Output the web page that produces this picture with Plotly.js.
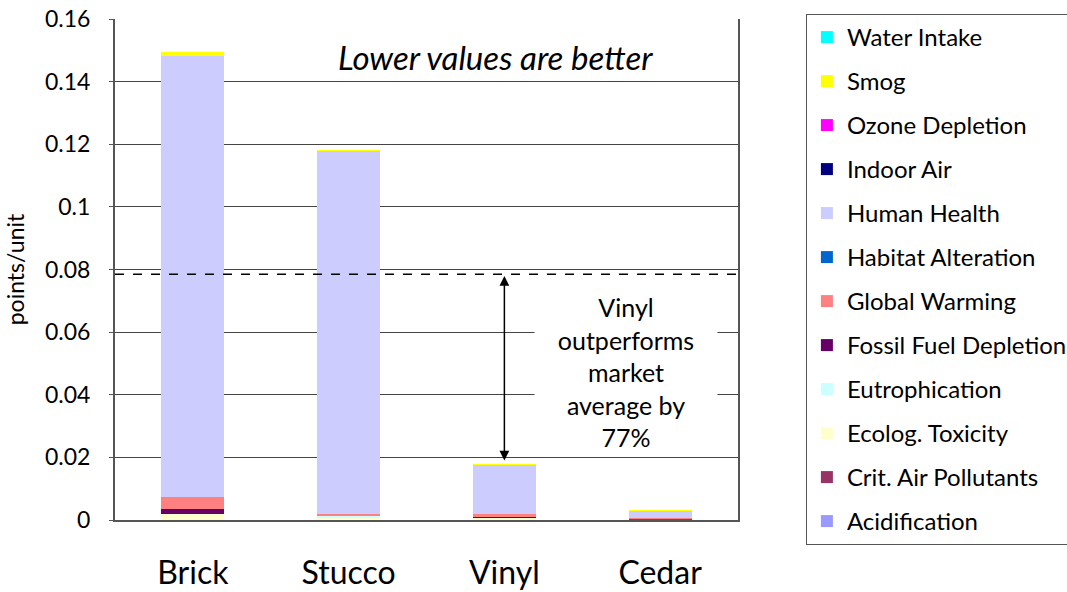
<!DOCTYPE html>
<html>
<head>
<meta charset="utf-8">
<script src="https://cdn.plot.ly/plotly-3.0.1.min.js"></script>
<style>html,body{margin:0;padding:0;background:#fff;}#chart{width:1067px;height:592px;}</style>
</head>
<body>
<div id="chart"></div>
<script>
// Categories and stacked series (points/unit), bottom of stack first
var categories = ["Brick", "Stucco", "Vinyl", "Cedar"];
var seriesNames = ["Acidification", "Crit. Air Pollutants", "Ecolog. Toxicity", "Eutrophication",
  "Fossil Fuel Depletion", "Global Warming", "Habitat Alteration", "Human Health",
  "Indoor Air", "Ozone Depletion", "Smog", "Water Intake"];
var seriesColors = ["#9999FF", "#993366", "#FFFFCC", "#CCFFFF", "#660066", "#FF8080",
  "#0066CC", "#CCCCFF", "#000080", "#FF00FF", "#FFFF00", "#00FFFF"];
var acidification   = [0.0000, 0.0000, 0.0000, 0.0000];
var critAir         = [0.0000, 0.0001, 0.0001, 0.0004];
var ecologToxicity  = [0.0020, 0.0007, 0.0006, 0.0000];
var eutrophication  = [0.0000, 0.0004, 0.0000, 0.0000];
var fossilFuel      = [0.0015, 0.0000, 0.0003, 0.0000];
var globalWarming   = [0.0038, 0.0007, 0.0010, 0.0002];
var habitat         = [0.0000, 0.0000, 0.0000, 0.0000];
var humanHealth     = [0.1409, 0.1158, 0.0156, 0.0022];
var indoorAir       = [0.0000, 0.0000, 0.0000, 0.0000];
var ozone           = [0.0000, 0.0000, 0.0000, 0.0000];
var smog            = [0.0012, 0.0004, 0.0004, 0.0005];
var waterIntake     = [0.0000, 0.0000, 0.0000, 0.0000];
var seriesValues = [acidification, critAir, ecologToxicity, eutrophication, fossilFuel,
  globalWarming, habitat, humanHealth, indoorAir, ozone, smog, waterIntake];
var marketAverage = 0.0785;
var vinylTotal = 0.0179;
var yTicks = [0, 0.02, 0.04, 0.06, 0.08, 0.1, 0.12, 0.14, 0.16];
var yTickLabels = ["0", "0.02", "0.04", "0.06", "0.08", "0.1", "0.12", "0.14", "0.16"];

var FONT = "Lato, 'Open Sans', sans-serif";
var traces = seriesNames.map(function (name, i) {
  return {
    type: "bar", name: name, x: categories, y: seriesValues[i],
    marker: {color: seriesColors[i], line: {width: 0}},
    legendgroup: "g" + i, legendrank: 100 - i, hoverinfo: "name+y"
  };
});

var layout = {
  width: 1067, height: 592,
  margin: {l: 115, r: 329, t: 19, b: 72, autoexpand: false},
  paper_bgcolor: "#fff", plot_bgcolor: "#fff",
  barmode: "stack", bargap: 0.595,
  font: {family: FONT, color: "#000"},
  showlegend: true,
  legend: {
    x: 1.109, xanchor: "left", y: 1.01, yanchor: "top",
    traceorder: "grouped", tracegroupgap: 9.8,
    maxheight: 700,
    bordercolor: "#555", borderwidth: 1, bgcolor: "#fff",
    font: {family: FONT, size: 24, color: "#000"}
  },
  xaxis: {
    type: "category", showgrid: false, ticks: "",
    tickfont: {family: FONT, size: 32, color: "#000"},
    ticklabelstandoff: 24,
    showline: true, linecolor: "#555", linewidth: 2, mirror: false
  },
  yaxis: {
    range: [0, 0.16], tickvals: yTicks, ticktext: yTickLabels,
    tickfont: {family: FONT, size: 23, color: "#000"},
    ticks: "outside", ticklen: 4, tickcolor: "#555",
    ticklabelstandoff: 14,
    showgrid: true, gridcolor: "#444", gridwidth: 1,
    showline: true, linecolor: "#555", linewidth: 2, mirror: true,
    zeroline: false,
    title: {text: "points/unit", font: {family: FONT, size: 23, color: "#000"}, standoff: 14}
  },
  shapes: [{
    type: "line", xref: "paper", yref: "y", x0: 0, x1: 1, y0: marketAverage, y1: marketAverage,
    line: {color: "#000", width: 1.5, dash: "dash"}
  }],
  annotations: [
    {
      xref: "x", yref: "y", x: 2, y: marketAverage - 0.0006, axref: "x", ayref: "y",
      ax: 2, ay: vinylTotal + 0.0006, showarrow: true, arrowside: "end+start",
      arrowhead: 2, arrowsize: 1.3, arrowwidth: 1.5, arrowcolor: "#000", text: ""
    },
    {
      xref: "x", yref: "y", x: 2.78, y: 0.0472, showarrow: false,
      text: "Vinyl<br>outperforms<br>market<br>average by<br>77%",
      font: {family: FONT, size: 25, color: "#000"}, bgcolor: "#fff",
      width: 176, borderpad: 3
    },
    {
      xref: "paper", yref: "paper", x: 0.61, y: 0.924, xanchor: "center", yanchor: "middle",
      showarrow: false,
      text: "<i>Lower values are better</i>",
      font: {family: FONT, size: 33, color: "#000"}
    }
  ]
};

Plotly.newPlot("chart", traces, layout, {displayModeBar: false, staticPlot: true});
</script>
</body>
</html>
